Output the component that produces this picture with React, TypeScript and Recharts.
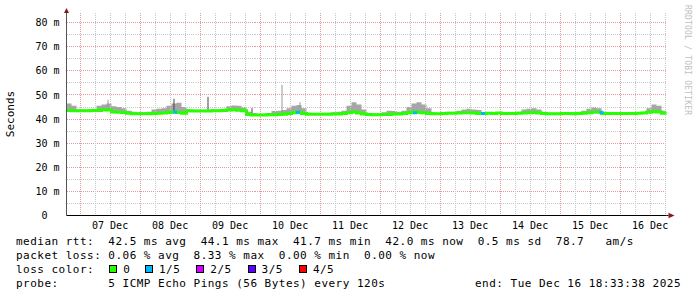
import React from 'react';
import {
  ComposedChart, Area, Line, Scatter, XAxis, YAxis, CartesianGrid,
  ReferenceLine, ReferenceDot,
} from 'recharts';

// median rtt (ms), one reading every 2 h, starting Dec 06 18:33
const medianRtt = [
  43.6, 43.5, 43.5, 43.5, 43.5, 43.6, 43.6, 43.9, 43.8, 42.9,
  42.8, 42.7, 42.4, 42.2, 42.2, 42.2, 42.2, 42.3, 42.4, 42.5,
  42.7, 42.9, 42.7, 42.4, 43.5, 43.4, 43.4, 43.4, 43.4, 43.5,
  43.5, 43.6, 43.8, 43.9, 43.7, 43.5, 41.9, 41.7, 41.7, 41.7,
  41.8, 41.8, 41.9, 42.0, 42.3, 42.6, 42.8, 42.3, 42.0, 42.0,
  42.0, 42.0, 42.0, 42.1, 42.1, 42.3, 42.6, 42.9, 42.5, 42.1,
  41.9, 41.8, 41.8, 41.9, 41.9, 42.1, 42.1, 42.3, 42.6, 42.9,
  42.7, 42.6, 42.3, 42.2, 42.2, 42.3, 42.4, 42.4, 42.5, 42.6,
  42.6, 42.5, 42.3, 42.3, 42.4, 42.3, 42.5, 42.3, 42.3, 42.3,
  42.4, 42.5, 42.6, 42.7, 42.5, 42.3, 42.2, 42.2, 42.2, 42.3,
  42.3, 42.2, 42.3, 42.4, 42.6, 42.8, 42.8, 42.3, 42.3, 42.3,
  42.3, 42.3, 42.3, 42.3, 42.4, 42.5, 42.8, 43.0, 42.9, 42.4,
  41.9,
];

// top of the smoke (slowest ping) per sample
const smokeMax = [
  46.5, 45.5, 44.0, 44.0, 44.0, 44.3, 45.5, 46.0, 46.5, 45.3,
  45.0, 44.5, 43.5, 43.0, 42.8, 42.8, 43.0, 44.0, 44.3, 44.5,
  45.5, 46.5, 46.8, 45.0, 44.0, 43.9, 43.9, 43.9, 43.9, 44.0,
  44.0, 44.3, 45.3, 45.6, 45.5, 44.8, 43.0, 42.5, 42.2, 42.2,
  42.5, 43.3, 43.5, 43.8, 44.5, 45.5, 45.8, 44.5, 42.6, 42.5,
  42.5, 42.6, 42.6, 42.8, 43.0, 43.5, 45.5, 47.0, 46.0, 44.0,
  42.5, 42.3, 42.3, 42.8, 43.5, 43.3, 43.0, 43.5, 45.0, 46.5,
  47.0, 46.0, 44.5, 42.8, 42.6, 42.8, 43.0, 43.0, 43.5, 44.0,
  44.3, 44.0, 43.8, 42.8, 42.7, 42.6, 42.6, 42.6, 42.6, 42.7,
  43.0, 44.0, 44.3, 44.5, 44.0, 42.8, 42.6, 42.6, 42.6, 42.6,
  42.6, 42.8, 43.0, 43.5, 44.3, 44.8, 44.5, 43.0, 42.6, 42.6,
  42.6, 42.6, 42.6, 42.6, 42.8, 43.0, 44.5, 46.0, 45.5, 43.5,
  42.5,
];

// single-ping outliers
const spikeHours = [16.6, 43.0, 56.6, 74.2, 86.2, 93.4];
const spikeBase = [43.8, 42.9, 43.4, 41.7, 42.0, 42.8];
const spikeTop = [48.0, 48.4, 49.2, 44.5, 54.2, 47.0];
const spikePings = [2, 1, 1, 1, 2, 2];

// 1/5 loss samples
const lossHours = [43.4, 92.6, 139.4, 166.6, 214.0];
const lossRtt = [42.9, 42.8, 42.6, 42.3, 42.7];

const dayLabels = ['07 Dec', '08 Dec', '09 Dec', '10 Dec', '11 Dec', '12 Dec', '13 Dec', '14 Dec', '15 Dec', '16 Dec'];
const labelHours = [17.44, 41.44, 65.44, 89.44, 113.44, 137.44, 161.44, 185.44, 209.44, 233.44];
const dayLines = [5.44, 29.44, 53.44, 77.44, 101.44, 125.44, 149.44, 173.44, 197.44, 221.44];
const yTicks = [0, 10, 20, 30, 40, 50, 60, 70, 80];
const yMinor = [5, 15, 25, 35, 45, 55, 65, 75];

const rttStats = ['42.5', '44.1', '41.7', '42.0', '0.5', '78.7'];
const lossStats = ['0.06', '8.33', '0.00', '0.00'];
const lossLegend = ['0', '1/5', '2/5', '3/5', '4/5'];
const lossColors = ['#26ff00', '#00b8ff', '#d400ff', '#5e00ff', '#ff0000'];
const legendLeft = [109.3, 145, 196.3, 247.6, 298.9];

const rows = medianRtt.map((m, i) => ({ h: i * 2, median: m, top: smokeMax[i] }));
const lossRows = lossHours.map((h, i) => ({ h, loss: lossRtt[i] }));
const sixHourLines: number[] = [];
for (let h = 11.44; h < 240; h += 6) if (!dayLines.some((d) => Math.abs(d - h) < 0.01)) sixHourLines.push(h);

const MONO = '"DejaVu Sans Mono", monospace';
const MINOR = '#c8c8c8';
const MAJOR = '#e49a9a';

const YTick = (p: any) => {
  const v = p.payload.value;
  return (
    <text x={v === 0 ? p.x - 12 : p.x} y={p.y} dy={3.6} textAnchor="end" fontSize={10} fontFamily={MONO} fill="#000">
      {v === 0 ? '0' : `${v} m`}
    </text>
  );
};

const LossMark = (p: any) => <rect x={p.cx - 2} y={p.cy - 1.5} width={4} height={3} fill="#00b8ff" />;
const UpArrow = (p: any) => <polygon points={`${p.cx - 2.5},${p.cy} ${p.cx + 2.5},${p.cy} ${p.cx},${p.cy - 5}`} fill="#8b1a1a" />;
const RightArrow = (p: any) => (
  <g>
    <line x1={p.cx} y1={p.cy} x2={p.cx + 2} y2={p.cy} stroke="#000" />
    <polygon points={`${p.cx + 2},${p.cy - 2.8} ${p.cx + 2},${p.cy + 2.8} ${p.cx + 8},${p.cy}`} fill="#8b1a1a" />
  </g>
);

const lineStyle: React.CSSProperties = {
  position: 'absolute', left: 16, fontFamily: MONO, fontSize: 11, letterSpacing: 0.48,
  whiteSpace: 'pre', lineHeight: '14px', color: '#000',
};

export default function App() {
  return (
    <div style={{ position: 'absolute', left: 0, top: 0, width: 697, height: 297, background: '#fff', overflow: 'hidden' }}>
      <ComposedChart width={697} height={297} data={rows} margin={{ top: 13, right: 30.5, bottom: 61.5, left: 6.5 }}>
        <CartesianGrid vertical={false} horizontalValues={yMinor} stroke={MINOR} strokeDasharray="1 1" shapeRendering="crispEdges" />
        <CartesianGrid vertical={false} horizontalValues={yTicks.slice(1)} stroke={MAJOR} strokeDasharray="1 1" shapeRendering="crispEdges" />
        {sixHourLines.map((h) => (
          <ReferenceLine key={`m${h}`} x={h} stroke={MINOR} strokeDasharray="1 1" shapeRendering="crispEdges" />
        ))}
        {dayLines.map((h) => (
          <ReferenceLine key={`d${h}`} x={h} stroke={MAJOR} strokeDasharray="1 1" shapeRendering="crispEdges" />
        ))}
        <XAxis
          type="number" dataKey="h" domain={[0, 240]} ticks={labelHours} interval={0} allowDataOverflow
          tickFormatter={(v: number) => dayLabels[labelHours.indexOf(v)]}
          tickLine={false} tickSize={4} tickMargin={2} height={20}
          axisLine={{ stroke: '#000' }}
          tick={{ fontSize: 10, fill: '#000', fontFamily: MONO }}
        />
        <YAxis
          type="number" domain={[0, 84]} ticks={yTicks} interval={0} allowDataOverflow
          tick={<YTick />} tickLine={false} tickSize={5} tickMargin={2} width={60}
          axisLine={{ stroke: '#555' }}
        />
        <Area dataKey={(d: any) => [d.median, d.top]} type="stepAfter" fill="#a6a6a6" fillOpacity={1} stroke="none" isAnimationActive={false} />
        {spikeHours.map((h, i) => (
          <ReferenceLine key={`s${i}`} segment={[{ x: h, y: spikeBase[i] }, { x: h, y: spikeTop[i] }]}
            stroke={spikePings[i] === 1 ? '#444' : '#999'} strokeWidth={1} />
        ))}
        <Line dataKey="median" type="stepAfter" stroke="#26ff00" strokeWidth={3} dot={false} isAnimationActive={false} />
        <Scatter data={lossRows} dataKey="loss" shape={LossMark} isAnimationActive={false} />
        <ReferenceDot x={0} y={84} shape={UpArrow} ifOverflow="visible" />
        <ReferenceDot x={240} y={0} shape={RightArrow} ifOverflow="visible" />
      </ComposedChart>

      <div style={{ position: 'absolute', left: -19.5, top: 108, width: 60, height: 12, lineHeight: '12px', textAlign: 'center', transform: 'rotate(-90deg)', fontFamily: MONO, fontSize: 11, color: '#000' }}>
        Seconds
      </div>
      <div style={{ position: 'absolute', left: 683, top: 5, writingMode: 'vertical-rl', fontFamily: MONO, fontSize: 8, letterSpacing: 0.2, lineHeight: '9px', color: '#c0c0c0', whiteSpace: 'pre' }}>
        RRDTOOL / TOBI OETIKER
      </div>

      <div style={{ ...lineStyle, top: 234.5 }}>
        {`median rtt:  ${rttStats[0]} ms avg  ${rttStats[1]} ms max  ${rttStats[2]} ms min  ${rttStats[3]} ms now  ${rttStats[4]} ms sd  ${rttStats[5]}   am/s`}
      </div>
      <div style={{ ...lineStyle, top: 248.5 }}>
        {`packet loss: ${lossStats[0]} % avg  ${lossStats[1]} % max  ${lossStats[2]} % min  ${lossStats[3]} % now`}
      </div>
      <div style={{ ...lineStyle, top: 262.5 }}>loss color:</div>
      {lossLegend.map((t, i) => (
        <React.Fragment key={t}>
          <div style={{ position: 'absolute', left: legendLeft[i], top: 264.5, width: 6, height: 6, border: '1px solid #000', background: lossColors[i] }} />
          <div style={{ ...lineStyle, left: legendLeft[i] + 14, top: 262.5 }}>{t}</div>
        </React.Fragment>
      ))}
      <div style={{ ...lineStyle, top: 276.5 }}>{'probe:       5 ICMP Echo Pings (56 Bytes) every 120s'}</div>
      <div style={{ ...lineStyle, left: 'auto', right: 16, top: 276.5 }}>{'end: Tue Dec 16 18:33:38 2025'}</div>
    </div>
  );
}
